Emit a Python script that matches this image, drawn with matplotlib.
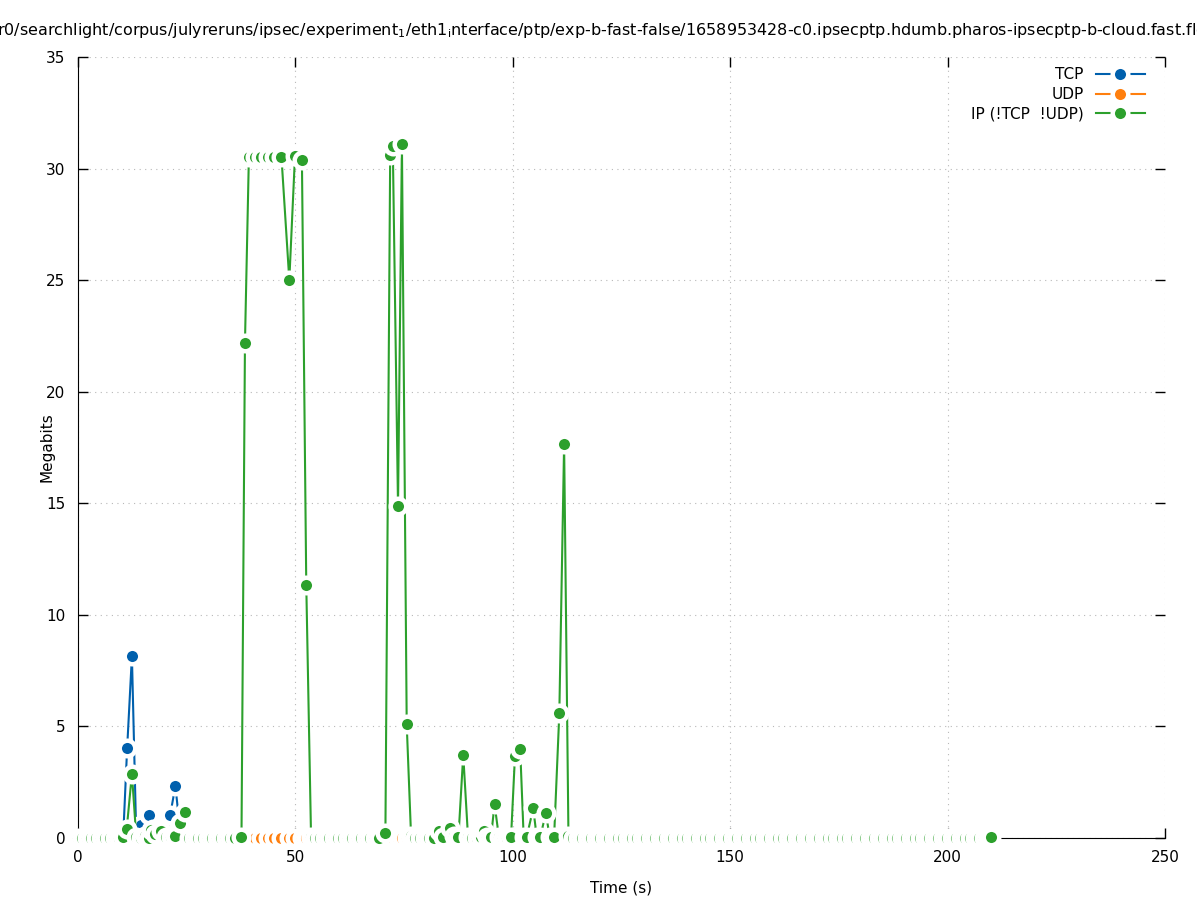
import matplotlib
matplotlib.use('Agg')
import matplotlib.pyplot as plt

# per-bin throughput, time (s) vs Megabits
tcp_t = [9.4, 10.4, 11.3, 12.4, 13.4, 14.6, 15.4, 16.3, 17.3, 18.3, 19.2, 20.2,
         21.2, 22.4, 23.5, 24.5]
tcp_mbit = [0.0, 0.1, 4.02, 8.15, 0.05, 0.57, 0.1, 1.03, 0.4, 0.3, 0.1, 0.05,
            1.03, 2.33, 0.3, 0.1]

udp_t = [39.3, 40.8, 42.2, 43.6, 45.0, 46.8, 48.6, 49.9, 51.5, 52.5, 53.6,
         71.8, 72.4, 73.6, 74.5, 75.6, 76.6]
udp_mbit = [0, 0, 0, 0, 0, 0, 0, 0, 0, 0, 0,
            0, 0, 0, 0, 0, 0]

ip_t = [0.0, 1.0, 2.1, 3.1, 4.2, 5.2, 6.3, 7.3, 8.4, 9.4, 10.4, 11.2, 12.4, 13.4, 14.5,
        15.4, 16.3, 16.9, 17.8, 19.2, 20.3, 21.3, 22.3, 23.5, 24.5, 25.6, 26.6, 27.7,
        28.7, 29.8, 30.8, 31.9, 32.9, 34.0, 35.0, 36.1, 37.6,
        38.4, 39.3, 40.8, 42.2, 43.6, 45.0, 46.8, 48.6, 49.9, 51.5, 52.5, 53.6,
        54.6, 55.7, 56.7, 57.8, 58.8, 59.9, 60.9, 62.0, 63.0, 64.1, 65.1, 66.2, 67.2,
        68.3, 69.3,
        70.7, 71.8, 72.4, 73.6, 74.5, 75.6, 76.6,
        77.6, 78.7, 79.7, 80.8, 81.9, 83.0, 84.0, 85.6, 86.5, 87.5, 88.6, 89.7, 90.7,
        91.7, 92.6, 93.3, 94.0, 95.0, 95.8, 96.8, 97.7, 98.7, 99.6, 100.5, 101.7, 102.5,
        103.2, 104.7, 105.5, 106.3, 107.6, 108.5, 109.5, 110.7, 111.8, 112.8,
        113.8, 114.9, 115.9, 117.0, 118.0, 119.1, 120.1, 121.2, 122.2, 123.3, 124.3,
        125.4, 126.4, 127.5, 128.5, 129.6, 130.6, 131.7, 132.7, 133.8, 134.8, 135.9,
        136.9, 138.0, 139.0, 140.1, 141.1, 142.2, 143.2, 144.3, 145.3, 146.4, 147.4,
        148.5, 149.5, 150.6, 151.6, 152.7, 153.7, 154.8, 155.8, 156.9, 157.9, 159.0,
        160.0, 161.1, 162.1, 163.2, 164.2, 165.3, 166.3, 167.4, 168.4, 169.5, 170.5,
        171.6, 172.6, 173.7, 174.7, 175.8, 176.8, 177.9, 178.9, 180.0, 181.0, 182.1,
        183.1, 184.2, 185.2, 186.3, 187.3, 188.4, 189.4, 190.5, 191.5, 192.6, 193.6,
        194.7, 195.7, 196.8, 197.8, 198.9, 199.9, 201.0, 202.0, 203.1, 204.1, 205.2,
        206.2, 207.3, 208.3, 209.2, 210.0]
ip_mbit = [0, 0, 0, 0, 0, 0, 0, 0, 0, 0, 0.05, 0.4, 2.87, 0.05, 0,
           0.1, 0, 0.36, 0.2, 0.33, 0.05, 0.05, 0.1, 0.69, 1.17, 0, 0, 0,
           0, 0, 0, 0, 0, 0, 0, 0, 0.05,
           22.2, 30.52, 30.5, 30.5, 30.5, 30.5, 30.5, 25.0, 30.55, 30.37, 11.34, 0.05,
           0, 0, 0, 0, 0, 0, 0, 0, 0, 0, 0, 0, 0,
           0, 0,
           0.21, 30.6, 31.0, 14.88, 31.1, 5.1, 0.1,
           0, 0, 0, 0, 0, 0.3, 0.05, 0.45, 0.1, 0.05, 3.72, 0.05, 0,
           0, 0.05, 0.3, 0.05, 0.05, 1.52, 0.05, 0, 0, 0.05, 3.68, 3.97, 0.05,
           0.05, 1.33, 0.05, 0.05, 1.1, 0.05, 0.05, 5.59, 17.64, 0.1,
           0, 0, 0, 0, 0, 0, 0, 0, 0, 0, 0,
           0, 0, 0, 0, 0, 0, 0, 0, 0, 0, 0,
           0, 0, 0, 0, 0, 0, 0, 0, 0, 0, 0,
           0, 0, 0, 0, 0, 0, 0, 0, 0, 0, 0,
           0, 0, 0, 0, 0, 0, 0, 0, 0, 0, 0,
           0, 0, 0, 0, 0, 0, 0, 0, 0, 0, 0,
           0, 0, 0, 0, 0, 0, 0, 0, 0, 0, 0,
           0, 0, 0, 0, 0, 0, 0, 0, 0, 0, 0,
           0, 0, 0, 0, 0.05]

x_ticks = [0, 50, 100, 150, 200, 250]
y_ticks = [0, 5, 10, 15, 20, 25, 30, 35]

title = (r'r0/searchlight/corpus/julyreruns/ipsec/experiment$_1$/eth1$_\mathrm{i}$nterface'
         r'/ptp/exp-b-fast-false/1658953428-c0.ipsecptp.hdumb.pharos-ipsecptp-b-cloud.fast.flows.dat')


def draw_series(ax, t, v, color, label):
    # gnuplot-ish linespoints: white halo around each point cuts the line
    ax.plot(t, v, '-o', color=color, lw=1.5, ms=11.2, mfc=color, mec='white',
            mew=3.2, clip_on=False, label=label, zorder=3)


def plot_throughput():
    fig = plt.figure(figsize=(11.97, 9), dpi=100)
    ax = fig.add_axes([78 / 1197, 1 - 838 / 900, (1165 - 78) / 1197, (838 - 57) / 900])

    draw_series(ax, tcp_t, tcp_mbit, '#0060ad', 'TCP')
    draw_series(ax, udp_t, udp_mbit, '#ff7f0e', 'UDP')
    draw_series(ax, ip_t, ip_mbit, '#2ca02c', 'IP (!TCP  !UDP)')

    ax.set_xlim(0, 250)
    ax.set_ylim(0, 35)
    ax.set_xticks(x_ticks)
    ax.set_yticks(y_ticks)
    ax.tick_params(direction='in', top=True, right=True, length=7, width=1,
                   labelsize=11, pad=9)
    ax.spines['top'].set_visible(False)
    ax.spines['right'].set_visible(False)
    ax.grid(True, color='#b8b8b8', linestyle=(0, (1, 4)), lw=0.8)
    ax.set_axisbelow(True)

    ax.set_xlabel('Time (s)', fontsize=11, labelpad=11)
    ax.set_ylabel('Megabits', fontsize=11)
    ax.yaxis.set_label_coords((55 - 78) / 1087, 0.5)

    ax.legend(loc='upper right', frameon=False, markerfirst=False, fontsize=11,
              handlelength=3.2, labelspacing=0.3, borderaxespad=0.6,
              bbox_to_anchor=(1 - 5 / 1087, 1 + 5 / 781))

    fig.text(-3 / 1197, 1 - 30 / 900, title, ha='left', va='center', fontsize=11.5)

    fig.savefig('out.png', dpi=100)
    plt.close(fig)


if __name__ == '__main__':
    plot_throughput()
